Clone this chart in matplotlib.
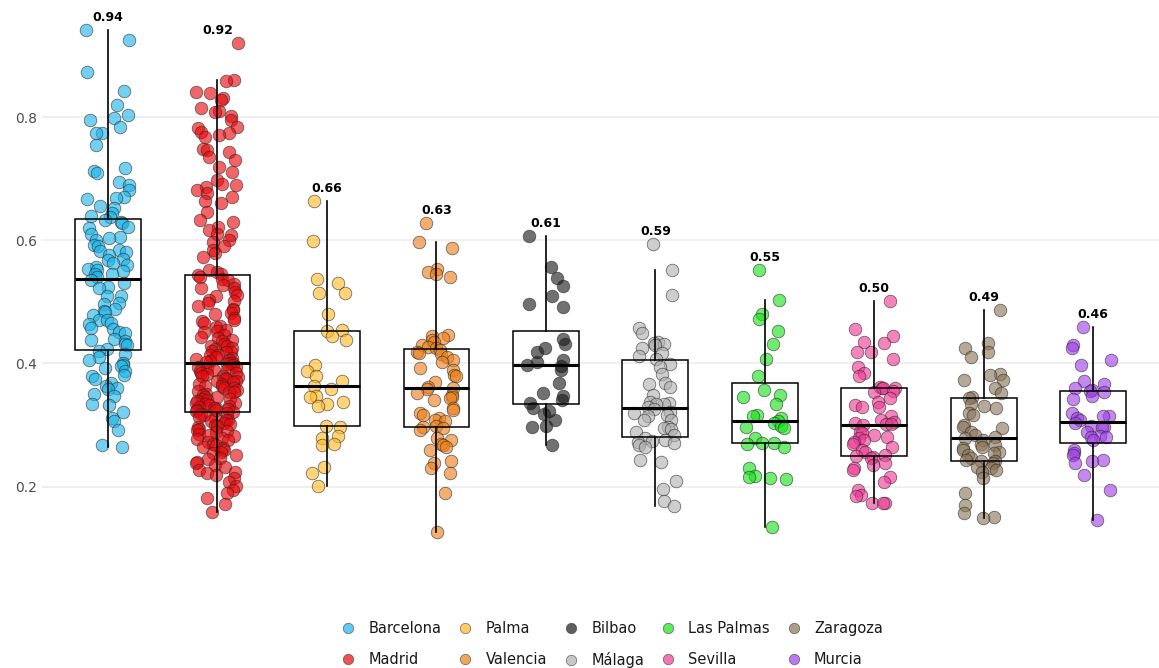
import numpy as np
import matplotlib
matplotlib.use('Agg')
import matplotlib.pyplot as plt
from matplotlib.lines import Line2D

# cities in plot order (left to right) and their colours
cities = ['Barcelona', 'Madrid', 'Palma', 'Valencia', 'Bilbao',
          'Málaga', 'Las Palmas', 'Sevilla', 'Zaragoza', 'Murcia']
colors = ['#1EB4E8', '#E8080B', '#FFB926', '#EC7F1A', '#1A1A1A',
          '#B0B0B0', '#1AE01A', '#EE3A94', '#8A7558', '#A040E8']

# values, one list per city
barcelona = [0.941, 0.925, 0.874, 0.842, 0.820, 0.803, 0.798, 0.795, 0.784, 0.774,
             0.774, 0.755, 0.717, 0.712, 0.709, 0.695, 0.690, 0.682, 0.671, 0.669,
             0.667, 0.655, 0.653, 0.644, 0.639, 0.638, 0.633, 0.630, 0.628, 0.622,
             0.620, 0.610, 0.606, 0.604, 0.600, 0.592, 0.590, 0.585, 0.583, 0.581,
             0.576, 0.570, 0.568, 0.563, 0.560, 0.556, 0.554, 0.552, 0.550, 0.546,
             0.545, 0.540, 0.535, 0.530, 0.524, 0.522, 0.510, 0.509, 0.498, 0.496,
             0.488, 0.486, 0.484, 0.479, 0.471, 0.470, 0.466, 0.464, 0.458, 0.456,
             0.451, 0.449, 0.440, 0.438, 0.436, 0.431, 0.430, 0.423, 0.420, 0.416,
             0.411, 0.406, 0.400, 0.398, 0.396, 0.393, 0.388, 0.382, 0.380, 0.375,
             0.368, 0.363, 0.361, 0.358, 0.350, 0.347, 0.335, 0.333, 0.322, 0.311,
             0.306, 0.292, 0.268, 0.265]
madrid = [0.920, 0.861, 0.858, 0.841, 0.839, 0.831, 0.828, 0.814, 0.810, 0.809,
          0.801, 0.795, 0.784, 0.782, 0.776, 0.774, 0.771, 0.768, 0.749, 0.747,
          0.744, 0.736, 0.730, 0.719, 0.711, 0.698, 0.692, 0.690, 0.687, 0.682,
          0.676, 0.671, 0.663, 0.660, 0.646, 0.633, 0.630, 0.622, 0.617, 0.611,
          0.609, 0.600, 0.598, 0.590, 0.584, 0.579, 0.573, 0.552, 0.549, 0.546,
          0.544,
          0.540, 0.537, 0.536, 0.529, 0.528, 0.523, 0.522, 0.516, 0.511, 0.509,
          0.503, 0.502, 0.499, 0.494, 0.488, 0.487, 0.482, 0.480, 0.474, 0.471,
          0.469, 0.465, 0.461, 0.460, 0.455, 0.452, 0.451, 0.446, 0.443, 0.442,
          0.438, 0.436, 0.431, 0.429, 0.428, 0.425, 0.423, 0.420, 0.419, 0.418,
          0.414, 0.413, 0.410, 0.409, 0.407, 0.405, 0.404, 0.403, 0.401, 0.400,
          0.399, 0.398, 0.395, 0.394, 0.393, 0.390, 0.389, 0.388, 0.385, 0.385,
          0.383, 0.380, 0.380, 0.378, 0.376, 0.375, 0.372, 0.371, 0.370, 0.367,
          0.366, 0.364, 0.363, 0.360, 0.360, 0.357, 0.356, 0.353, 0.353, 0.350,
          0.349, 0.346, 0.346, 0.343, 0.342, 0.340, 0.339, 0.336, 0.336, 0.334,
          0.333, 0.331, 0.330, 0.328, 0.327, 0.326, 0.325, 0.324, 0.323, 0.322,
          0.320, 0.318, 0.317, 0.313, 0.312, 0.309, 0.308, 0.306, 0.303, 0.302,
          0.300, 0.298, 0.297, 0.293, 0.292, 0.290, 0.288, 0.285, 0.284, 0.282,
          0.279, 0.277, 0.276, 0.272, 0.270, 0.268, 0.265, 0.263, 0.259, 0.256,
          0.254, 0.251, 0.247, 0.245, 0.240, 0.239, 0.235, 0.232, 0.227, 0.224,
          0.222, 0.219, 0.214, 0.208, 0.201, 0.195, 0.189, 0.181, 0.172, 0.159]
palma = [0.664, 0.599, 0.537, 0.530, 0.515, 0.515, 0.480, 0.454, 0.452, 0.445,
         0.438, 0.398, 0.388, 0.379, 0.372, 0.364, 0.358, 0.347, 0.345, 0.338,
         0.335, 0.331, 0.299, 0.297, 0.282, 0.279, 0.270, 0.267, 0.232, 0.222,
         0.201]
valencia = [0.628, 0.598, 0.587, 0.553, 0.549, 0.546, 0.541, 0.446, 0.444, 0.441,
            0.438, 0.435, 0.430, 0.427, 0.425, 0.422, 0.419, 0.417, 0.415, 0.411,
            0.406, 0.403, 0.392, 0.389, 0.381, 0.379, 0.370, 0.362, 0.360, 0.359,
            0.352, 0.349, 0.346, 0.344, 0.341, 0.327, 0.325, 0.319, 0.316, 0.311,
            0.308, 0.306, 0.299, 0.297, 0.295, 0.292, 0.279, 0.276, 0.270, 0.268,
            0.265, 0.260, 0.241, 0.238, 0.230, 0.222, 0.189, 0.127]
bilbao = [0.607, 0.557, 0.539, 0.526, 0.510, 0.497, 0.492, 0.440, 0.432, 0.425,
          0.418, 0.405, 0.402, 0.398, 0.396, 0.390, 0.369, 0.352, 0.347, 0.341,
          0.336, 0.327, 0.323, 0.318, 0.308, 0.299, 0.297, 0.268]
malaga = [0.594, 0.551, 0.511, 0.457, 0.449, 0.435, 0.434, 0.432, 0.430, 0.425,
          0.417, 0.412, 0.407, 0.399, 0.395, 0.383, 0.369, 0.367, 0.362, 0.349,
          0.338, 0.336, 0.335, 0.334, 0.330, 0.326, 0.321, 0.319, 0.316, 0.314,
          0.309, 0.308, 0.297, 0.295, 0.293, 0.288, 0.284, 0.279, 0.276, 0.274,
          0.273, 0.271, 0.268, 0.265, 0.244, 0.240, 0.209, 0.196, 0.177, 0.169]
las_palmas = [0.552, 0.503, 0.481, 0.473, 0.452, 0.432, 0.408, 0.380, 0.357, 0.349,
              0.345, 0.335, 0.316, 0.315, 0.311, 0.306, 0.303, 0.299, 0.297, 0.296,
              0.279, 0.271, 0.271, 0.270, 0.264, 0.231, 0.217, 0.216, 0.214, 0.212,
              0.134]
sevilla = [0.502, 0.456, 0.444, 0.435, 0.434, 0.419, 0.419, 0.408, 0.395, 0.384,
           0.379, 0.362, 0.361, 0.360, 0.360, 0.356, 0.354, 0.344, 0.338, 0.333,
           0.330, 0.330, 0.314, 0.308, 0.305, 0.303, 0.302, 0.301, 0.300, 0.289,
           0.287, 0.284, 0.281, 0.279, 0.276, 0.273, 0.270, 0.265, 0.260, 0.257,
           0.251, 0.250, 0.249, 0.246, 0.239, 0.235, 0.230, 0.227, 0.216, 0.208,
           0.195, 0.187, 0.185, 0.174, 0.173, 0.173]
zaragoza = [0.487, 0.433, 0.425, 0.418, 0.410, 0.383, 0.381, 0.373, 0.373, 0.360,
            0.352, 0.346, 0.344, 0.334, 0.331, 0.327, 0.319, 0.316, 0.300, 0.297,
            0.295, 0.289, 0.284, 0.281, 0.279, 0.276, 0.270, 0.268, 0.265, 0.262,
            0.260, 0.257, 0.254, 0.251, 0.246, 0.243, 0.241, 0.241, 0.238, 0.232,
            0.230, 0.227, 0.224, 0.214, 0.189, 0.170, 0.157, 0.150, 0.149]
murcia = [0.460, 0.430, 0.425, 0.406, 0.398, 0.372, 0.367, 0.360, 0.357, 0.355,
          0.354, 0.347, 0.343, 0.319, 0.314, 0.314, 0.311, 0.308, 0.303, 0.299,
          0.297, 0.297, 0.288, 0.282, 0.281, 0.281, 0.275, 0.260, 0.254, 0.251,
          0.243, 0.241, 0.239, 0.219, 0.194, 0.146]

groups = [barcelona, madrid, palma, valencia, bilbao,
          malaga, las_palmas, sevilla, zaragoza, murcia]

fig = plt.figure(figsize=(11.59, 6.68), dpi=100)
ax = fig.add_axes([0.0364, 0.1617, 0.9636, 0.8308])

# points spread sideways around each box (fixed hash jitter, same on every run)
jitter_w = 0.2
for i, (vals, col) in enumerate(zip(groups, colors)):
    k = np.arange(len(vals)) + 17 * i
    frac = (np.sin(k * 12.9898 + 4.1414) * 43758.5453) % 1.0
    offs = (frac - 0.5) * 2 * jitter_w
    ax.scatter(i + 1 + offs, vals, s=82, color=col, alpha=0.62,
               edgecolors=(0.15, 0.15, 0.15, 0.55), linewidths=0.6, zorder=2)

ax.boxplot(groups, positions=np.arange(1, 11), widths=0.6, showfliers=False,
           patch_artist=True, whis=1.5,
           boxprops=dict(facecolor='none', edgecolor='black', linewidth=1.1),
           medianprops=dict(color='black', linewidth=2.2),
           whiskerprops=dict(color='black', linewidth=1.2),
           capprops=dict(linewidth=0), zorder=3)

# max value above each group
for i, vals in enumerate(groups):
    top = max(vals)
    ax.text(i + 1, top + 0.02, f'{top:.2f}', ha='center', va='center',
            fontsize=9, fontweight='bold', color='black')

ax.set_xlim(0.4, 10.6)
ax.set_ylim(0.081, 0.982)
ax.set_yticks([0.2, 0.4, 0.6, 0.8])
ax.set_yticklabels(['0.2', '0.4', '0.6', '0.8'])
ax.set_xticks([])
ax.tick_params(axis='y', length=0, labelsize=10, labelcolor='#4D4D4D', pad=4)
ax.grid(axis='y', color='#EBEBEB', linewidth=1.1)
ax.set_axisbelow(True)
for sp in ax.spines.values():
    sp.set_visible(False)

handles = [Line2D([0], [0], marker='o', linestyle='none', markersize=7.5,
                  markerfacecolor=c, markeredgecolor=(0.2, 0.2, 0.2, 0.3),
                  markeredgewidth=0.5, alpha=0.7) for c in colors]
fig.legend(handles, cities, loc='lower center', bbox_to_anchor=(0.528, -0.02),
           ncol=5, frameon=False, fontsize=10.5, handlelength=1.0,
           handletextpad=0.9, columnspacing=1.12, labelspacing=1.1,
           labelcolor='#1A1A1A')

fig.savefig('out.png', dpi=100)
